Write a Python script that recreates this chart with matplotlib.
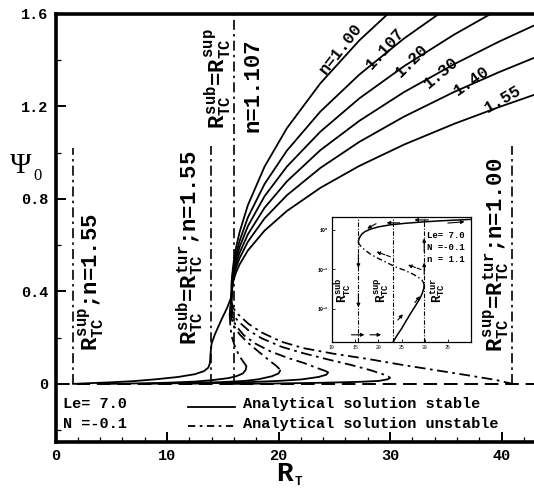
import matplotlib
matplotlib.use("Agg")
import matplotlib.pyplot as plt
from matplotlib.patches import Rectangle
from matplotlib.ticker import MultipleLocator, FixedLocator, FixedFormatter

plt.rcParams['font.family'] = ['Liberation Mono', 'DejaVu Sans']
plt.rcParams['mathtext.fontset'] = 'custom'
plt.rcParams['mathtext.rm'] = 'Liberation Mono:bold'
plt.rcParams['mathtext.it'] = 'Liberation Mono:bold'
plt.rcParams['mathtext.bf'] = 'Liberation Mono:bold'

# ---------------- data ----------------
curve_labels = ["n=1.00", "1.107", "1.20", "1.30", "1.40", "1.55"]

# upper stable branches
up_100_R = [15.78, 15.8, 15.9, 16.0, 16.2, 16.5, 17.25, 18.75, 20.75, 23.75, 27.25, 31.25]
up_100_P = [0.360, 0.444, 0.497, 0.535, 0.591, 0.655, 0.773, 0.940, 1.106, 1.300, 1.486, 1.665]
up_1107_R = [15.75, 15.78, 15.8, 15.9, 16.0, 16.2, 16.5, 17.25, 18.75, 20.75, 23.75, 27.25, 31.25, 35.75]
up_1107_P = [0.345, 0.378, 0.434, 0.481, 0.513, 0.562, 0.617, 0.720, 0.865, 1.009, 1.178, 1.338, 1.494, 1.647]
up_120_R = [15.72, 15.78, 15.9, 16.0, 16.2, 16.5, 17.25, 18.75, 20.75, 23.75, 27.25, 31.25, 35.75, 39.75]
up_120_P = [0.330, 0.378, 0.469, 0.498, 0.541, 0.591, 0.682, 0.812, 0.940, 1.091, 1.235, 1.374, 1.511, 1.620]
up_130_R = [15.68, 15.78, 15.9, 16.0, 16.2, 16.5, 17.25, 18.75, 20.75, 23.75, 27.25, 31.25, 35.75, 39.75, 42.9]
up_130_P = [0.315, 0.378, 0.458, 0.483, 0.522, 0.566, 0.647, 0.762, 0.876, 1.011, 1.138, 1.262, 1.383, 1.480, 1.550]
up_140_R = [15.62, 15.78, 15.9, 16.0, 16.2, 16.5, 17.25, 18.75, 20.75, 23.75, 27.25, 31.25, 35.75, 39.75, 42.9]
up_140_P = [0.300, 0.378, 0.447, 0.470, 0.504, 0.543, 0.615, 0.716, 0.816, 0.934, 1.047, 1.156, 1.263, 1.348, 1.410]
# n=1.55 is stable all the way
all_155_R = [1.55, 3, 5, 7, 9, 11, 12.5, 13.3, 13.7, 13.85, 13.9, 14.0, 14.3, 14.9, 15.4, 15.78,
             15.9, 16.0, 16.2, 16.5, 17.25, 18.75, 20.75, 23.75, 27.25, 31.25, 35.75, 39.75, 42.9]
all_155_P = [0.0, 0.003, 0.007, 0.012, 0.02, 0.03, 0.042, 0.055, 0.07, 0.09, 0.13, 0.175, 0.215, 0.28, 0.33, 0.378,
             0.435, 0.454, 0.483, 0.516, 0.577, 0.663, 0.748, 0.848, 0.943, 1.035, 1.125, 1.197, 1.250]

# unstable branches
un_100_R = [15.78, 15.9, 16.4, 17.3, 18.5, 20.3, 22.2, 25, 28, 31, 34, 37, 39.5, 41.0]
un_100_P = [0.36, 0.33, 0.30, 0.26, 0.222, 0.182, 0.155, 0.13, 0.108, 0.083, 0.06, 0.037, 0.017, 0.0]
un_1107_R = [15.75, 15.9, 16.4, 17.3, 18.5, 20.3, 22.2, 24.5, 26.5, 28.2, 29.3, 29.85, 30.0]
un_1107_P = [0.345, 0.30, 0.27, 0.232, 0.197, 0.16, 0.133, 0.105, 0.082, 0.06, 0.043, 0.032, 0.026]
un_120_R = [15.72, 15.85, 16.2, 16.9, 17.9, 19.3, 20.8, 22.3, 23.5, 24.2, 24.45]
un_120_P = [0.33, 0.285, 0.25, 0.21, 0.175, 0.14, 0.113, 0.09, 0.068, 0.056, 0.05]
un_130_R = [15.68, 15.8, 16.0, 16.5, 17.2, 18.2, 19.2, 19.8, 20.05, 20.15]
un_130_P = [0.315, 0.28, 0.25, 0.215, 0.18, 0.14, 0.1, 0.078, 0.066, 0.058]
un_140_R = [15.62, 15.68, 15.8, 16.1, 16.5, 16.85, 17.05, 17.12]
un_140_P = [0.30, 0.25, 0.205, 0.16, 0.12, 0.095, 0.082, 0.075]

# lower stable branches
lo_1107_R = [15.9, 20, 24, 27.3, 29.0, 29.8, 30.0]
lo_1107_P = [0.0, 0.002, 0.005, 0.009, 0.013, 0.02, 0.026]
lo_120_R = [11.5, 14, 17, 20, 22, 23.6, 24.3, 24.45]
lo_120_P = [0.0, 0.003, 0.007, 0.013, 0.019, 0.03, 0.04, 0.05]
lo_130_R = [8, 12, 15, 17, 18.2, 19.4, 20.0, 20.15]
lo_130_P = [0.0, 0.004, 0.008, 0.013, 0.02, 0.033, 0.045, 0.058]
lo_140_R = [4.5, 7, 10, 12.5, 14, 15.5, 16.2, 16.8, 17.05, 17.12]
lo_140_P = [0.0, 0.002, 0.005, 0.01, 0.016, 0.025, 0.033, 0.045, 0.06, 0.075]

# critical vertical lines: (R, top)
crit_R = [1.55, 13.9, 16.0, 40.9]
crit_top = [1.02, 1.03, 1.6, 1.03]

# inset curve (n = 1.1)
in_lo_R = [23.2, 24.0, 25.05, 26.1, 27.2, 28.2, 29.0, 29.5, 29.8, 29.9]
in_lo_P = [0.00145, 0.0021, 0.0032, 0.0052, 0.0085, 0.013, 0.0186, 0.025, 0.033, 0.041]
in_un_R = [29.9, 29.7, 29.4, 28.5, 27.2, 25.5, 23.6, 21.8, 20.0, 18.4, 17.1, 16.2, 15.75, 15.7]
in_un_P = [0.041, 0.047, 0.054, 0.065, 0.079, 0.097, 0.117, 0.15, 0.19, 0.24, 0.31, 0.39, 0.46, 0.5]
in_up_R = [15.7, 15.75, 16.05, 16.5, 17.1, 18.3, 20.0, 22.5, 25.8, 29.5, 33.0, 36.5, 40.0]
in_up_P = [0.5, 0.56, 0.68, 0.8, 0.91, 1.05, 1.2, 1.35, 1.48, 1.6, 1.7, 1.78, 1.86]
in_crit_R = [15.7, 23.2, 29.9]

xticks = [0, 10, 20, 30, 40]
yticks = [0, 0.4, 0.8, 1.2, 1.6]
ytick_labels = ["0", "0.4", "0.8", "1.2", "1.6"]

# ---------------- figure ----------------
W, H = 534, 490
fig = plt.figure(figsize=(W / 100, H / 100), dpi=100)
ax = fig.add_axes([55.5 / W, (H - 441.7) / H, (535 - 55.5) / W, 427.7 / H])
ax.set_xlim(0, 43)
ax.set_ylim(-0.25, 1.6)

DD = (0, (6, 2.5, 1.5, 2.5))
LW = 1.3

ax.axhline(0, color='black', lw=1.4, ls=(0, (7, 3.5)), zorder=2)

for R, P in [(up_100_R, up_100_P), (up_1107_R, up_1107_P), (up_120_R, up_120_P),
             (up_130_R, up_130_P), (up_140_R, up_140_P), (all_155_R, all_155_P),
             (lo_1107_R, lo_1107_P), (lo_120_R, lo_120_P), (lo_130_R, lo_130_P), (lo_140_R, lo_140_P)]:
    ax.plot(R, P, color='black', lw=LW, solid_capstyle='round', solid_joinstyle='round', zorder=3)
for R, P in [(un_100_R, un_100_P), (un_1107_R, un_1107_P), (un_120_R, un_120_P),
             (un_130_R, un_130_P), (un_140_R, un_140_P)]:
    ax.plot(R, P, color='black', lw=LW, ls=DD, zorder=3)

for r, t in zip(crit_R, crit_top):
    ax.plot([r, r], [0, t], color='black', lw=1.2, ls=DD, zorder=3)

# curve labels
lab_pos = [(25.6, 1.45, 52), (29.6, 1.45, 48), (32.0, 1.40, 45), (34.6, 1.345, 40),
           (37.3, 1.31, 35), (40.1, 1.23, 30)]
for txt, (x, y, rot) in zip(curve_labels, lab_pos):
    ax.text(x, y, txt, rotation=rot, ha='center', va='center', fontsize=12,
            fontweight='bold', family='Liberation Mono', zorder=4)

# rotated critical labels
bigfs = 16
ax.text(3.3, 0.44, r"$R_{TC}^{sup}$;n=1.55", rotation=90, ha='center', va='center',
        fontsize=bigfs, fontweight='bold')
ax.text(12.1, 0.59, r"$R_{TC}^{sub}$=$R_{TC}^{tur}$;n=1.55", rotation=90, ha='center', va='center',
        fontsize=bigfs, fontweight='bold')
ax.text(14.6, 1.32, r"$R_{TC}^{sub}$=$R_{TC}^{sup}$", rotation=90, ha='center', va='center',
        fontsize=bigfs, fontweight='bold')
ax.text(17.7, 1.29, "n=1.107", rotation=90, ha='center', va='center',
        fontsize=bigfs, fontweight='bold')
ax.text(39.6, 0.56, r"$R_{TC}^{sup}$=$R_{TC}^{tur}$;n=1.00", rotation=90, ha='center', va='center',
        fontsize=bigfs, fontweight='bold')

# legend block
ax.text(0.7, -0.087, "Le= 7.0", ha='left', va='center', fontsize=11, fontweight='bold')
ax.text(0.7, -0.173, "N =-0.1", ha='left', va='center', fontsize=11, fontweight='bold')
ax.plot([11.9, 16.1], [-0.1, -0.1], color='black', lw=LW)
ax.plot([11.9, 16.1], [-0.182, -0.182], color='black', lw=LW, ls=(0, (4, 2.5, 1.5, 2.5)))
ax.text(16.8, -0.087, "Analytical solution stable", ha='left', va='center', fontsize=11, fontweight='bold')
ax.text(16.8, -0.173, "Analytical solution unstable", ha='left', va='center', fontsize=11, fontweight='bold')

# axes styling
for s in ['left', 'bottom', 'top']:
    ax.spines[s].set_linewidth(2.6)
ax.spines['right'].set_visible(False)
ax.xaxis.set_major_locator(FixedLocator(xticks))
ax.xaxis.set_minor_locator(MultipleLocator(2))
ax.yaxis.set_major_locator(FixedLocator(yticks))
ax.yaxis.set_major_formatter(FixedFormatter(ytick_labels))
ax.yaxis.set_minor_locator(MultipleLocator(0.2))
ax.tick_params(which='major', direction='in', length=7, width=1.4, labelsize=11, pad=5)
ax.tick_params(which='minor', direction='in', length=3.5, width=0.9)
for lab in ax.get_xticklabels() + ax.get_yticklabels():
    lab.set_fontweight('bold')

fig.text(21 / W, 1 - 166 / H, "Ψ", family='Liberation Serif', fontsize=21, ha='center', va='center')
fig.text(37.5 / W, 1 - 176 / H, "0", family='Liberation Serif', fontsize=12, ha='center', va='center')
fig.text(284 / W, 1 - 474 / H, "R", family='Liberation Mono', fontweight='bold', fontsize=20,
         ha='center', va='center')
fig.text(298 / W, 1 - 482 / H, "T", family='Liberation Mono', fontweight='bold', fontsize=9,
         ha='center', va='center')

# white background behind the inset
fig.add_artist(Rectangle((312 / W, (H - 348) / H), 170 / W, 138 / H, transform=fig.transFigure,
                         facecolor='white', edgecolor='none', zorder=1))

# ---------------- inset ----------------
ins = fig.add_axes([332 / W, (H - 342) / H, 139 / W, 125 / H])
ins.set_zorder(2)
ins.set_xlim(10, 40)
ins.set_yscale('log')
ins.set_ylim(10 ** -2.84, 10 ** 0.33)
ins.plot(in_lo_R, in_lo_P, color='black', lw=1.1)
ins.plot(in_up_R, in_up_P, color='black', lw=1.1)
ins.plot(in_un_R, in_un_P, color='black', lw=1.0, ls=(0, (4, 2, 1, 2)))
for r in in_crit_R:
    ins.axvline(r, color='black', lw=0.8, ls=(0, (4, 1.5, 1, 1.5)))
ins.set_xticks([10, 15, 20, 25, 30, 35])
ins.set_yticks([0.01, 0.1, 1])
ins.set_yticklabels([r"$10^{-2}$", r"$10^{-1}$", r"$10^{0}$"])
ins.yaxis.set_minor_locator(FixedLocator([]))
ins.tick_params(which='both', direction='in', length=2, width=0.6, labelsize=3.5, pad=2)
for s in ins.spines.values():
    s.set_linewidth(0.9)
ins.text(30.6, 0.746, "Le= 7.0", fontsize=6.5, fontweight='bold', va='center', ha='left')
ins.text(30.6, 0.37, "N =-0.1", fontsize=6.5, fontweight='bold', va='center', ha='left')
ins.text(30.6, 0.174, "n = 1.1", fontsize=6.5, fontweight='bold', va='center', ha='left')
for x, t in [(12.6, r"$R_{TC}^{sub}$"), (21.0, r"$R_{TC}^{sup}$"), (32.9, r"$R_{TC}^{tur}$")]:
    ins.text(x, 0.03, t, rotation=90, fontsize=9, ha='center', va='center')

arrows = [((19.5, 1.45), (17.6, 1.08), '-'), ((24.6, 1.52), (21.8, 1.52), '-'),
          ((30.8, 1.8), (27.8, 1.8), '-'), ((35.0, 1.5), (38.6, 1.62), '-'),
          ((15.7, 0.24), (15.7, 0.11), '-'), ((15.7, 0.024), (15.7, 0.011), '-'),
          ((29.9, 0.28), (29.9, 0.62), '-'), ((29.9, 0.075), (29.9, 0.15), '-'),
          ((29.2, 0.1), (26.4, 0.13), '--'), ((22.6, 0.21), (19.6, 0.28), '--'),
          ((27.9, 0.0145), (29.0, 0.021), '-'), ((24.2, 0.0052), (25.3, 0.0073), '-'),
          ((14.2, 0.0022), (17.0, 0.0022), '-'), ((18.2, 0.0022), (20.6, 0.0022), '-')]
for (x0, y0), (x1, y1), st in arrows:
    ins.annotate("", xy=(x1, y1), xytext=(x0, y0),
                 arrowprops=dict(arrowstyle='-|>', color='black', lw=0.8, ls=st,
                                 mutation_scale=5, shrinkA=0, shrinkB=0))

fig.savefig("out.png", dpi=100)
